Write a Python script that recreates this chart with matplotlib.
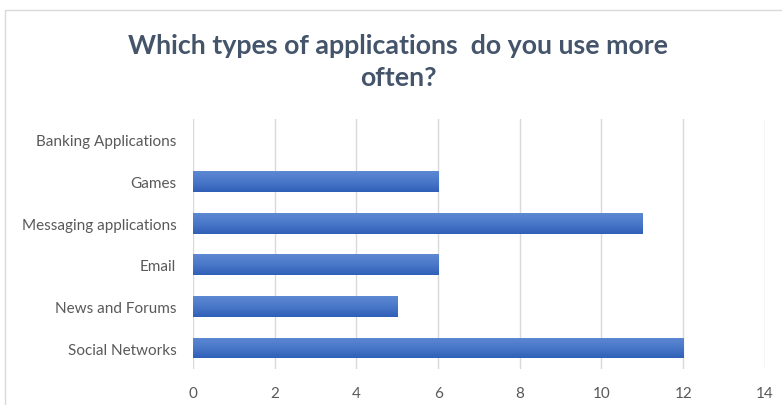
import numpy as np
import matplotlib.pyplot as plt
from matplotlib.patches import Rectangle
from matplotlib.colors import LinearSegmentedColormap

# data
categories = ['Social Networks', 'News and Forums', 'Email',
              'Messaging applications', 'Games', 'Banking Applications']
values = [12, 5, 6, 11, 6, 0]
xticks = [0, 2, 4, 6, 8, 10, 12, 14]

plt.rcParams['font.family'] = ['Lato', 'DejaVu Sans']

fig = plt.figure(figsize=(7.82, 4.06), dpi=100)
ax = fig.add_axes([0.2468, 0.089, 0.7313, 0.615])

# chart border (top and left edges visible)
fig.patches.append(Rectangle((0.0064, -0.1), 1.2, 1.0730, transform=fig.transFigure,
                             fill=False, edgecolor='#D9D9D9', linewidth=1.0))

y = np.arange(len(categories))
bars = ax.barh(y, values, height=0.5, color='#4472C4', zorder=2)

# gradient fill on each bar
grad = np.linspace(0, 1, 64).reshape(-1, 1)
cmap = LinearSegmentedColormap.from_list('g', ['#2F5FB7', '#4A78C9', '#5D88D2'])
for b in bars:
    if b.get_width() <= 0:
        continue
    x0, y0 = b.get_x(), b.get_y()
    im = ax.imshow(grad, extent=(x0, x0 + b.get_width(), y0, y0 + b.get_height()),
                   origin='lower', cmap=cmap, aspect='auto', zorder=3)
    im.set_clip_path(b)

ax.set_xlim(0, 14)
ax.set_ylim(-0.5, len(categories) - 0.5)
ax.set_xticks(xticks)
ax.set_yticks(y)
ax.set_yticklabels(categories)
ax.tick_params(length=0, labelsize=11, colors='#595959')
ax.tick_params(axis='x', pad=12)
ax.tick_params(axis='y', pad=12)
ax.grid(axis='x', color='#D9D9D9', linewidth=1.0, zorder=0)
ax.set_axisbelow(True)
for s in ax.spines.values():
    s.set_visible(False)

fig.text(0.509, 0.848, 'Which types of applications  do you use more\noften?',
         ha='center', va='center', fontsize=19.3, fontweight='bold',
         color='#44546A', linespacing=1.38)

fig.savefig('out.png', dpi=100)
